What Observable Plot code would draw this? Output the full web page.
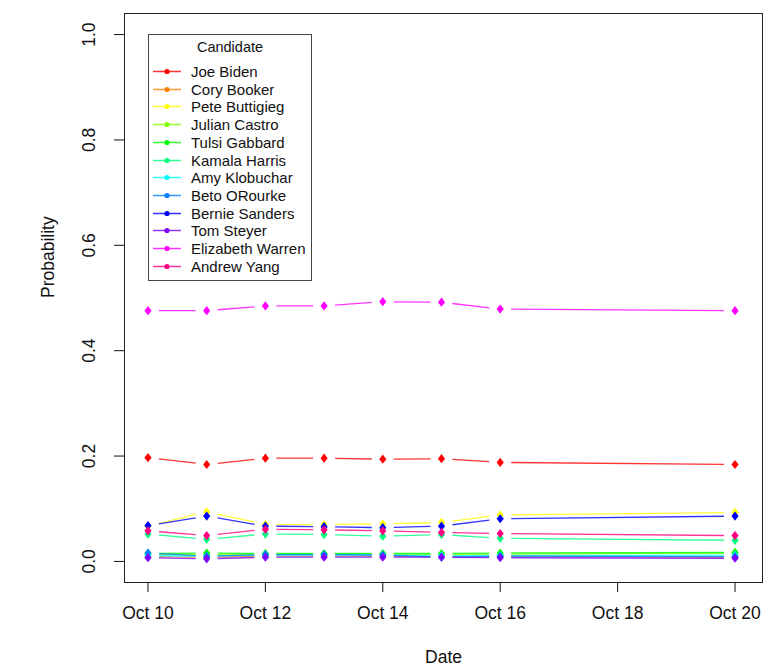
<!DOCTYPE html>
<html><head><meta charset="utf-8">
<script src="https://cdn.jsdelivr.net/npm/d3@7"></script>
<script src="https://cdn.jsdelivr.net/npm/@observablehq/plot@0.6"></script>
<style>
body{margin:0;background:#fff;}
#wrap{position:relative;width:782px;height:669px;font-family:"Liberation Sans",Arial,sans-serif;}
#legend{position:absolute;left:148px;top:34px;width:164px;height:247px;border:1px solid #444;box-sizing:border-box;background:#fff;}
#legend .title{position:absolute;left:0;width:100%;top:4px;text-align:center;font-size:14.5px;color:#111;}
#legend .row{position:absolute;left:0;height:17px;width:100%;}
#legend .row svg{position:absolute;left:3px;top:0;}
#legend .row span{position:absolute;left:42px;top:0;font-size:15px;line-height:17px;color:#111;white-space:nowrap;}
</style></head><body><div id="wrap"></div>
<script>
// ---- data ----
const dates = ["2019-10-10","2019-10-11","2019-10-12","2019-10-13","2019-10-14","2019-10-15","2019-10-16","2019-10-20"];
const candidates = ["Joe Biden","Cory Booker","Pete Buttigieg","Julian Castro","Tulsi Gabbard","Kamala Harris","Amy Klobuchar","Beto ORourke","Bernie Sanders","Tom Steyer","Elizabeth Warren","Andrew Yang"];
const colors = ["#FF0000","#FF8000","#FFFF00","#80FF00","#00FF00","#00FF80","#00FFFF","#0080FF","#0000FF","#8000FF","#FF00FF","#FF0080"];
const biden     = [0.197, 0.184, 0.196, 0.196, 0.194, 0.195, 0.188, 0.184];
const booker    = [0.009, 0.008, 0.010, 0.010, 0.010, 0.009, 0.009, 0.008];
const buttigieg = [0.067, 0.094, 0.070, 0.070, 0.071, 0.074, 0.088, 0.093];
const castro    = [0.014, 0.013, 0.014, 0.014, 0.014, 0.013, 0.014, 0.016];
const gabbard   = [0.015, 0.016, 0.015, 0.015, 0.015, 0.015, 0.016, 0.017];
const harris    = [0.052, 0.042, 0.052, 0.051, 0.048, 0.051, 0.044, 0.040];
const klobuchar = [0.011, 0.010, 0.012, 0.012, 0.012, 0.011, 0.011, 0.012];
const orourke   = [0.016, 0.010, 0.013, 0.013, 0.012, 0.008, 0.010, 0.009];
const sanders   = [0.068, 0.086, 0.067, 0.066, 0.064, 0.067, 0.081, 0.086];
const steyer    = [0.007, 0.005, 0.008, 0.008, 0.008, 0.008, 0.007, 0.006];
const warren    = [0.476, 0.476, 0.485, 0.485, 0.493, 0.492, 0.479, 0.476];
const yang      = [0.058, 0.049, 0.061, 0.060, 0.058, 0.055, 0.053, 0.049];
const series = [biden, booker, buttigieg, castro, gabbard, harris, klobuchar, orourke, sanders, steyer, warren, yang];
const xTickDates = ["2019-10-10","2019-10-12","2019-10-14","2019-10-16","2019-10-18","2019-10-20"];
const yTicks = [0, 0.2, 0.4, 0.6, 0.8, 1.0];

// ---- build ----
const dateObjs = dates.map(d => new Date(d + "T00:00:00Z"));
const xTicks = xTickDates.map(d => new Date(d + "T00:00:00Z"));
const t0 = +dateObjs[0], t1 = +dateObjs[dateObjs.length - 1], span = t1 - t0;
const xDomain = [new Date(t0 - 0.04 * span), new Date(t1 + 0.04 * span)];

const diamond = {draw(ctx) { const h = 4.6, w = 3.6; ctx.moveTo(0, -h); ctx.lineTo(w, 0); ctx.lineTo(0, h); ctx.lineTo(-w, 0); ctx.closePath(); }};

const marks = [Plot.frame({stroke: "#222"})];
series.forEach((vals, k) => {
  const pts = vals.map((v, i) => ({date: dateObjs[i], value: v, candidate: candidates[k]}));
  const segs = pts.slice(0, -1).map((p, i) => ({x1: p.date, y1: p.value, x2: pts[i + 1].date, y2: pts[i + 1].value}));
  marks.push(Plot.link(segs, {x1: "x1", y1: "y1", x2: "x2", y2: "y2", stroke: colors[k], strokeWidth: 1.3, strokeOpacity: 0.8}));
  marks.push(Plot.dot(pts, {x: "date", y: "value", fill: colors[k], symbol: diamond, r: 4}));
});
marks.push(Plot.axisX(xTicks, {tickSize: 10, tickPadding: 14, tickFormat: d3.utcFormat("%b %d"), label: null}));
marks.push(Plot.axisY(yTicks, {tickSize: 10, tickPadding: 20, tickRotate: -90, tickFormat: d3.format(".1f"), label: null}));
marks.push(Plot.text(["Probability"], {frameAnchor: "left", rotate: -90, dx: -76, fill: "#111"}));
marks.push(Plot.text(["Date"], {frameAnchor: "bottom", dy: 80, fill: "#111"}));

const chart = Plot.plot({
  width: 782, height: 669,
  marginLeft: 124, marginRight: 20, marginTop: 13, marginBottom: 87,
  style: {fontFamily: "'Liberation Sans', Arial, sans-serif", fontSize: "17.5px", color: "#111", background: "#fff"},
  x: {type: "utc", domain: xDomain, insetRight: 4},
  y: {domain: [-0.04, 1.04]},
  marks
});
const wrap = document.getElementById("wrap");
wrap.appendChild(chart);

// R type="b": leave a gap around each point
chart.querySelectorAll('g[aria-label="link"] path').forEach(p => {
  const L = p.getTotalLength(), g = 11;
  if (L > 2 * g) p.setAttribute("stroke-dasharray", `0 ${g} ${L - 2 * g} ${g}`);
  else p.setAttribute("stroke-dasharray", `0 ${L}`);
});

// legend
const lg = document.createElement("div");
lg.id = "legend";
lg.innerHTML = `<div class="title">Candidate</div>` + candidates.map((c, i) =>
  `<div class="row" style="top:${28 + i * 17.7}px"><svg width="30" height="17"><line x1="1" x2="29" y1="8.5" y2="8.5" stroke="${colors[i]}" stroke-width="1.5" stroke-opacity="0.8"/><circle cx="15" cy="8.5" r="2.6" fill="${colors[i]}"/></svg><span>${c}</span></div>`).join("");
wrap.appendChild(lg);
</script></body></html>
